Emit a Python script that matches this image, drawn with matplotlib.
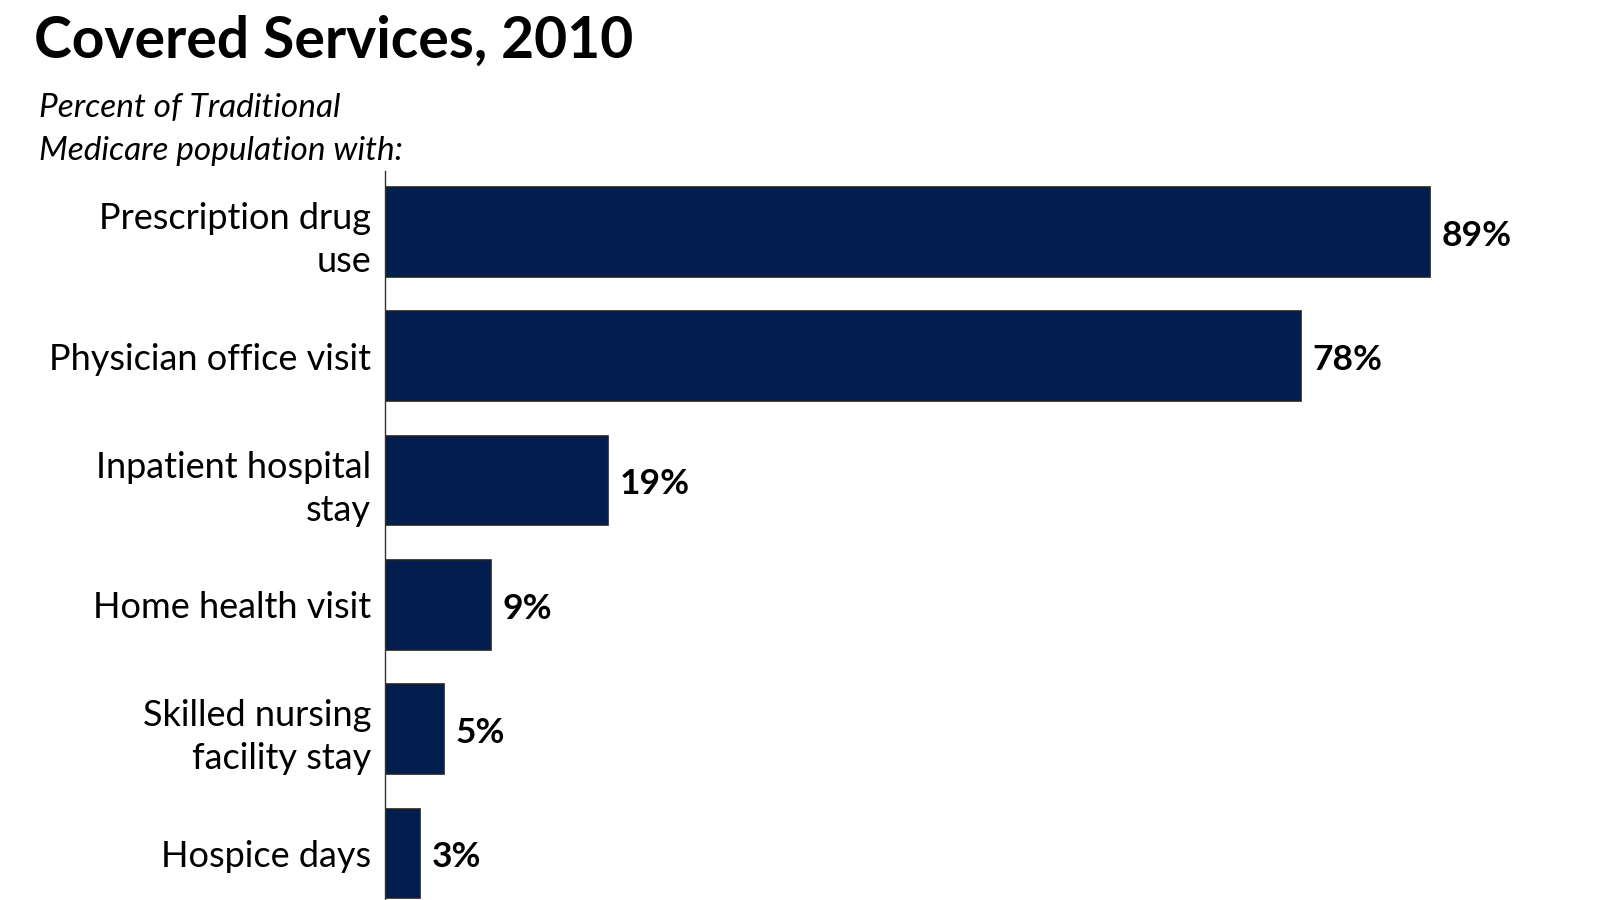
import matplotlib.pyplot as plt

# data
services = ["Prescription drug\nuse", "Physician office visit", "Inpatient hospital\nstay",
            "Home health visit", "Skilled nursing\nfacility stay", "Hospice days"]
percent = [89, 78, 19, 9, 5, 3]

BAR_COLOR = "#011E4E"
plt.rcParams['font.family'] = ['Lato', 'DejaVu Sans']

fig = plt.figure(figsize=(16, 9), dpi=100)
ax = fig.add_axes([385 / 1600, 0.0, 1 - 385 / 1600, (900 - 171) / 900])

ypos = list(range(len(services)))
ax.barh(ypos, percent, height=0.72, color=BAR_COLOR, edgecolor="#222222", linewidth=1.2)

for y, v in zip(ypos, percent):
    ax.text(v + 1.0, y + 0.03, f"{v}%", va="center", ha="left", fontsize=25.5, fontweight="bold")

ax.set_yticks(ypos)
ax.set_yticklabels(services, fontsize=26, linespacing=1.38)
ax.tick_params(axis="y", length=0, pad=10)
ax.set_xticks([])
ax.set_xlim(0, 103.5)
ax.set_ylim(5.374, -0.49)

for side in ["top", "right", "bottom"]:
    ax.spines[side].set_visible(False)
ax.spines["left"].set_linewidth(1.0)
ax.spines["left"].set_color("#333333")

fig.text(34 / 1600, 1 - 58 / 900, "Covered Services, 2010", fontsize=41, fontweight="bold",
         ha="left", va="baseline")
fig.text(39 / 1600, 1 - 117 / 900, "Percent of Traditional",
         fontsize=24, style="italic", ha="left", va="baseline")
fig.text(39 / 1600, 1 - 160 / 900, "Medicare population with:",
         fontsize=24, style="italic", ha="left", va="baseline")

fig.savefig("out.png", dpi=100)
